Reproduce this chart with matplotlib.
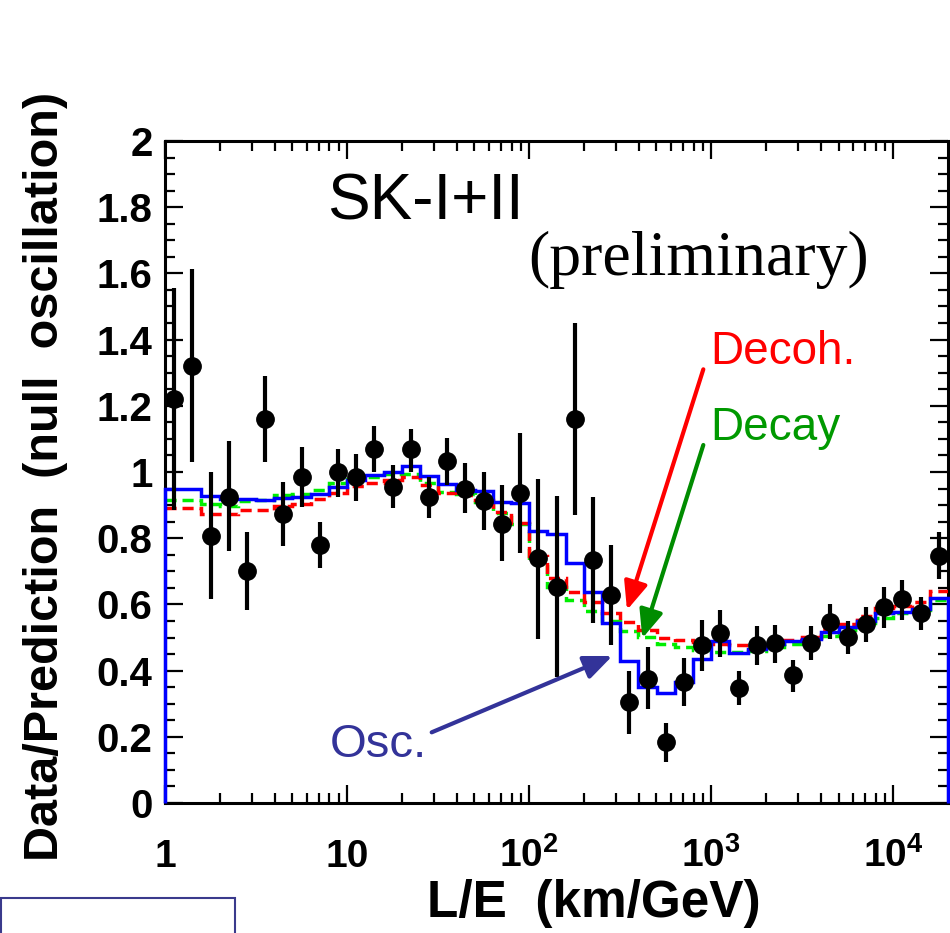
import matplotlib
matplotlib.use('Agg')
import matplotlib.pyplot as plt
import numpy as np
from matplotlib.patches import Rectangle
from matplotlib.ticker import FixedLocator, MultipleLocator, LogLocator, NullFormatter, FixedFormatter

plt.rcParams['font.family'] = ['Liberation Sans', 'DejaVu Sans']
plt.rcParams['mathtext.fontset'] = 'custom'
plt.rcParams['mathtext.rm'] = 'Liberation Sans:bold'
plt.rcParams['mathtext.bf'] = 'Liberation Sans:bold'
plt.rcParams['mathtext.it'] = 'Liberation Sans:bold'

# ---------------- data ----------------
bin_edges = [1.0, 1.259, 1.585, 1.995, 2.512, 3.162, 3.981, 5.012, 6.310, 7.943,
             10.0, 12.59, 15.85, 19.95, 25.12, 31.62, 39.81, 50.12, 63.10, 79.43,
             100.0, 125.9, 158.5, 199.5, 251.2, 316.2, 398.1, 501.2, 631.0, 794.3,
             1000.0, 1259.0, 1585.0, 1995.0, 2512.0, 3162.0, 3981.0, 5012.0, 6310.0, 7943.0,
             10000.0, 12589.0, 15849.0, 19953.0]

le_centers = [1.122, 1.413, 1.778, 2.239, 2.818, 3.548, 4.467, 5.623, 7.079, 8.913,
              11.22, 14.13, 17.78, 22.39, 28.18, 35.48, 44.67, 56.23, 70.79, 89.13,
              112.2, 141.3, 177.8, 223.9, 281.8, 354.8, 446.7, 562.3, 707.9, 891.3,
              1122.0, 1413.0, 1778.0, 2239.0, 2818.0, 3548.0, 4467.0, 5623.0, 7079.0, 8913.0,
              11220.0, 14130.0, 17780.0]

data_ratio = [1.22, 1.32, 0.807, 0.925, 0.70, 1.16, 0.872, 0.985, 0.78, 1.0,
              0.985, 1.07, 0.955, 1.07, 0.925, 1.033, 0.95, 0.912, 0.843, 0.937,
              0.74, 0.653, 1.16, 0.734, 0.628, 0.304, 0.376, 0.183, 0.366, 0.477,
              0.514, 0.348, 0.477, 0.482, 0.387, 0.484, 0.547, 0.502, 0.541, 0.593,
              0.615, 0.573, 0.747]

data_low = [0.885, 1.03, 0.615, 0.76, 0.583, 1.03, 0.775, 0.895, 0.71, 0.925,
            0.913, 1.0, 0.89, 1.0, 0.86, 0.962, 0.875, 0.825, 0.73, 0.754,
            0.497, 0.381, 0.87, 0.544, 0.477, 0.21, 0.283, 0.124, 0.293, 0.40,
            0.442, 0.296, 0.417, 0.424, 0.336, 0.433, 0.497, 0.45, 0.487, 0.529,
            0.553, 0.523, 0.677]

data_high = [1.555, 1.612, 1.0, 1.095, 0.82, 1.29, 0.97, 1.075, 0.85, 1.07,
             1.055, 1.14, 1.02, 1.13, 0.985, 1.103, 1.026, 1.0, 0.96, 1.118,
             0.98, 0.927, 1.45, 0.925, 0.78, 0.40, 0.47, 0.242, 0.437, 0.554,
             0.583, 0.40, 0.535, 0.538, 0.432, 0.535, 0.601, 0.55, 0.593, 0.652,
             0.674, 0.623, 0.82]

osc_pred = [0.949, 0.949, 0.927, 0.918, 0.917, 0.914, 0.922, 0.926, 0.935, 0.956,
            0.975, 0.991, 1.0, 1.018, 0.988, 0.964, 0.946, 0.943, 0.91, 0.905,
            0.822, 0.812, 0.725, 0.638, 0.545, 0.43, 0.352, 0.332, 0.366, 0.435,
            0.488, 0.453, 0.464, 0.479, 0.489, 0.497, 0.517, 0.532, 0.551, 0.573,
            0.578, 0.585, 0.619]

decoh_pred = [0.89, 0.89, 0.872, 0.872, 0.885, 0.885, 0.897, 0.903, 0.917, 0.938,
              0.958, 0.968, 0.976, 0.985, 0.96, 0.937, 0.93, 0.915, 0.88, 0.845,
              0.745, 0.68, 0.636, 0.607, 0.574, 0.546, 0.522, 0.50, 0.492, 0.485,
              0.479, 0.477, 0.48, 0.484, 0.492, 0.501, 0.525, 0.541, 0.566, 0.59,
              0.596, 0.608, 0.64]

decay_pred = [0.915, 0.915, 0.903, 0.896, 0.912, 0.915, 0.93, 0.935, 0.947, 0.968,
              0.98, 0.985, 0.994, 0.995, 0.966, 0.94, 0.935, 0.91, 0.875, 0.843,
              0.734, 0.653, 0.613, 0.579, 0.551, 0.521, 0.502, 0.479, 0.47, 0.461,
              0.455, 0.457, 0.46, 0.472, 0.48, 0.488, 0.505, 0.523, 0.543, 0.558,
              0.573, 0.583, 0.613]

x_tick_values = [1, 10, 100, 1000, 10000]
x_tick_labels = ['1', '10', r'$\mathbf{10^{2}}$', r'$\mathbf{10^{3}}$', r'$\mathbf{10^{4}}$']
y_tick_values = [0, 0.2, 0.4, 0.6, 0.8, 1.0, 1.2, 1.4, 1.6, 1.8, 2.0]
y_tick_labels = ['0', '0.2', '0.4', '0.6', '0.8', '1', '1.2', '1.4', '1.6', '1.8', '2']

# ---------------- figure ----------------
fig = plt.figure(figsize=(9.5, 9.33), dpi=100)
ax = fig.add_axes([0.1737, 0.1393, 0.8242, 0.7096])

ax.set_xscale('log')
ax.set_xlim(bin_edges[0], bin_edges[-1])
ax.set_ylim(0, 2)

dash = (0, (3.2, 1.7))
ax.stairs(decay_pred, bin_edges, baseline=None, color='#00ee00', lw=2.5,
          linestyle=dash, zorder=3)
ax.stairs(decoh_pred, bin_edges, baseline=None, color='#ff0000', lw=2.5,
          linestyle=dash, zorder=3.1)
ax.stairs(osc_pred, bin_edges, baseline=0, fill=False, color='#0000ff', lw=2.5,
          zorder=3.2, clip_on=False)

lo_err = np.array(data_ratio) - np.array(data_low)
hi_err = np.array(data_high) - np.array(data_ratio)
ax.errorbar(le_centers, data_ratio, yerr=[lo_err, hi_err], fmt='o', color='black',
            ms=12.5, elinewidth=3, capsize=0, zorder=5)

# ticks
ax.xaxis.set_major_locator(FixedLocator(x_tick_values))
ax.xaxis.set_major_formatter(FixedFormatter(x_tick_labels))
ax.xaxis.set_minor_locator(LogLocator(base=10, subs=(2, 3, 4, 5, 6, 7, 8, 9), numticks=20))
ax.xaxis.set_minor_formatter(NullFormatter())
ax.yaxis.set_major_locator(FixedLocator(y_tick_values))
ax.yaxis.set_major_formatter(FixedFormatter(y_tick_labels))
ax.yaxis.set_minor_locator(MultipleLocator(0.05))

ax.tick_params(which='both', direction='in', top=True, right=True, width=1.6, color='black')
ax.tick_params(which='major', length=13)
ax.tick_params(which='minor', length=7)
ax.tick_params(axis='y', which='major', labelsize=29, pad=9)
ax.tick_params(axis='x', which='major', labelsize=28, pad=46)
for lbl in ax.get_yticklabels():
    lbl.set_fontweight('bold')
for lbl in ax.get_xticklabels():
    lbl.set_fontweight('bold')
    lbl.set_verticalalignment('baseline')

for sp in ax.spines.values():
    sp.set_linewidth(2.2)

ax.set_xlabel('L/E  (km/GeV)', fontsize=37, fontweight='bold')
ax.xaxis.set_label_coords(0.548, -0.114)
ax.set_ylabel('Data/Prediction  (null  oscillation)', fontsize=35, fontweight='bold')
ax.yaxis.set_label_coords(-0.124, 0.493)

# texts
ax.text(0.207, 0.881, 'SK-I+II', transform=ax.transAxes, fontsize=46,
        ha='left', va='baseline', color='black')
ax.text(0.4636, 0.7976, '(preliminary)', transform=ax.transAxes, fontsize=46,
        family=['Liberation Serif', 'DejaVu Serif'], ha='left', va='baseline', color='black')
ax.text(0.696, 0.663, 'Decoh.', transform=ax.transAxes, fontsize=33,
        ha='left', va='baseline', color='#ff0000')
ax.text(0.696, 0.548, 'Decay', transform=ax.transAxes, fontsize=33,
        ha='left', va='baseline', color='#009900')
ax.text(0.2107, 0.0695, 'Osc.', transform=ax.transAxes, fontsize=34,
        ha='left', va='baseline', color='#333399')

# arrows
def arrow(start, end, color):
    ax.annotate('', xy=end, xytext=start, xycoords='axes fraction',
                textcoords='axes fraction',
                arrowprops=dict(arrowstyle='-|>,head_length=0.9,head_width=0.38',
                                color=color, lw=3, shrinkA=0, shrinkB=0,
                                mutation_scale=19), zorder=6)

arrow((0.6875, 0.6551), (0.590, 0.2915), '#ff0000')
arrow((0.6875, 0.5408), (0.6096, 0.2488), '#008c00')
arrow((0.3406, 0.1068), (0.5713, 0.2221), '#333399')

# box at lower-left of slide
fig.patches.append(Rectangle((0.001, -0.01), 0.246, 0.048, transform=fig.transFigure,
                             fill=False, edgecolor='#3a3a8c', lw=1.5))

fig.savefig('out.png', dpi=100)
